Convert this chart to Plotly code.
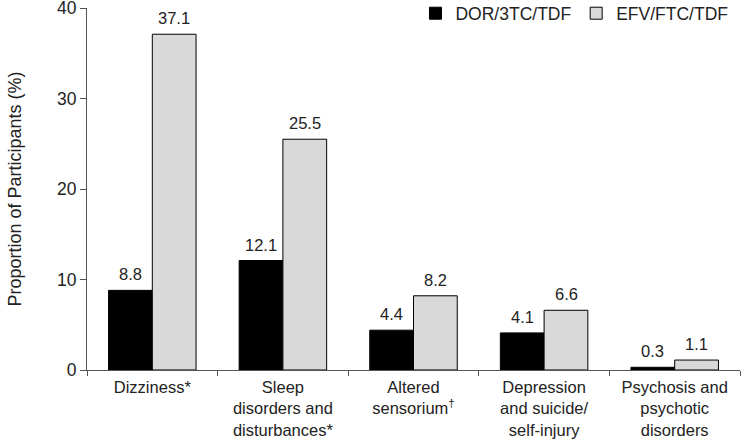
import plotly.graph_objects as go

categories = ["Dizziness*", "Sleep<br>disorders and<br>disturbances*", "Altered<br>sensorium<sup>\u2020</sup>",
              "Depression<br>and suicide/<br>self-injury", "Psychosis and<br>psychotic<br>disorders"]
dor = [8.8, 12.1, 4.4, 4.1, 0.3]
efv = [37.1, 25.5, 8.2, 6.6, 1.1]
series_names = ["DOR/3TC/TDF", "EFV/FTC/TDF"]

font = "Liberation Sans, Arial, sans-serif"
fig = go.Figure()
fig.add_trace(go.Bar(x=categories, y=dor, name=series_names[0],
                     marker=dict(color="#000000", line=dict(color="#000000", width=1))))
fig.add_trace(go.Bar(x=categories, y=efv, name=series_names[1],
                     marker=dict(color="#d9d9d9", line=dict(color="#000000", width=1))))

# value labels above bars
for vals, shift in ((dor, -22), (efv, 22)):
    for c, v in zip(categories, vals):
        fig.add_annotation(x=c, y=v, text=f"{v:.1f}", showarrow=False, xshift=shift,
                           yanchor="bottom", yshift=5, font=dict(size=16.5, color="#222"))

fig.update_layout(
    width=742, height=444, barmode="group", bargap=0.33, bargroupgap=0,
    margin=dict(l=87, r=2, t=8, b=74, autoexpand=False),
    plot_bgcolor="white", paper_bgcolor="white",
    font=dict(family=font, size=17, color="#222"),
    legend=dict(orientation="h", x=0.99, xanchor="right", y=1.035, yanchor="top",
                font=dict(size=17.5), itemwidth=30, bgcolor="rgba(0,0,0,0)"),
    xaxis=dict(showline=True, linecolor="#555", linewidth=1, ticks="outside",
               tickson="boundaries", ticklen=5, tickcolor="#555", automargin=False,
               ticklabelstandoff=2, tickfont=dict(size=16.5)),
    yaxis=dict(range=[0, 40], dtick=10, showline=True, linecolor="#555", linewidth=1,
               ticks="outside", ticklen=6, tickcolor="#555", showgrid=False, automargin=False,
               zeroline=False, tickfont=dict(size=17.5), ticklabeloverflow="allow",
               title=dict(text="Proportion of Participants (%)", font=dict(size=18), standoff=30)),
)
fig.write_html("out.html", config={"displayModeBar": False},
               post_script="document.body.style.margin='0';")
